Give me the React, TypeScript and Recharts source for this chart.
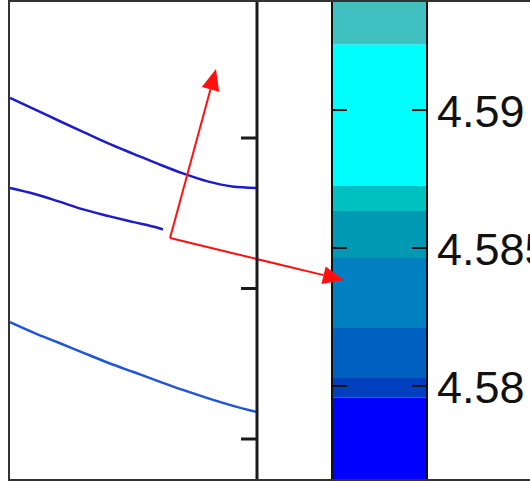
import React from "react";
import { BarChart, Bar, LineChart, Line, XAxis, YAxis, ReferenceLine } from "recharts";

const W = 530;
const H = 482;

// contour lines (left panel), x in plot units
const xs = [0, 1, 2, 3, 4, 5, 6, 7, 8, 9, 10];
const contourUpper = [3.266, 3.19, 3.113, 3.037, 2.962, 2.895, 2.828, 2.765, 2.712, 2.678, 2.668];
const contourMiddle = [2.668, 2.628, 2.577, 2.524, 2.481, 2.441, 2.402];
const contourMiddleEndX = 6.19;
const contourMiddleEndY = 2.392;
const contourLower = [1.777, 1.704, 1.638, 1.571, 1.505, 1.445, 1.385, 1.326, 1.272, 1.222, 1.179];
const plotYTicks = [1, 2, 3];

// red arrows
const arrowOrigin = { x: 6.48, y: 2.335 };
const arrowTips = [
  { x: 8.34, y: 3.458 },
  { x: 13.52, y: 2.056 },
];

// colorbar
const cbBounds = [4.57659, 4.57957, 4.58029, 4.5821, 4.58464, 4.58634, 4.58725, 4.59239, 4.59399];
const cbColors = ["#0000ff", "#0040c0", "#0060c0", "#0080c0", "#0099b4", "#00c0c0", "#00ffff", "#40c0c0"];
const cbTicks = [4.58, 4.585, 4.59];

const upperData = xs.map((x, i) => ({ x, y: contourUpper[i] }));
const middleData = [
  ...contourMiddle.map((y, i) => ({ x: xs[i], y })),
  { x: contourMiddleEndX, y: contourMiddleEndY },
];
const lowerData = xs.map((x, i) => ({ x, y: contourLower[i] }));

// one stacked column, each band is the step between two bounds
const cbRow: Record<string, any> = { k: "cb" };
cbColors.forEach((_, i) => {
  cbRow["b" + i] = i === 0 ? cbBounds[1] : cbBounds[i + 1] - cbBounds[i];
});
const cbData = [cbRow];

function Arrow(props: any) {
  const { x1, y1, x2, y2 } = props;
  const ang = Math.atan2(y2 - y1, x2 - x1);
  const len = 21;
  const half = 9;
  const bx = x2 - len * Math.cos(ang);
  const by = y2 - len * Math.sin(ang);
  const px = -Math.sin(ang) * half;
  const py = Math.cos(ang) * half;
  return (
    <g>
      <line x1={x1} y1={y1} x2={bx} y2={by} stroke="#ff1010" strokeWidth={2} />
      <polygon
        points={`${x2},${y2} ${bx + px},${by + py} ${bx - px},${by - py}`}
        fill="#ff1010"
      />
    </g>
  );
}

function InwardTickLeft(props: any) {
  const { x, y } = props;
  return <line x1={x - 16} y1={y} x2={x} y2={y} stroke="#1a1a1a" strokeWidth={3} />;
}

function CbTickLeft(props: any) {
  const { x, y } = props;
  return <line x1={x} y1={y} x2={x + 15} y2={y} stroke="#111" strokeWidth={2} />;
}

function CbTickRight(props: any) {
  const { x, y, payload } = props;
  return (
    <g>
      <line x1={x - 15} y1={y} x2={x} y2={y} stroke="#111" strokeWidth={2} />
      <text
        x={x + 10}
        y={y + 17}
        textAnchor="start"
        fontSize={45}
        fontFamily="'Liberation Sans', Arial, sans-serif"
        fill="#111"
      >
        {payload.value}
      </text>
    </g>
  );
}

export default function App() {
  const cbDomain = [cbBounds[0], cbBounds[cbBounds.length - 1]];
  return (
    <div style={{ position: "absolute", left: 0, top: 0, width: W, height: H, background: "#fff" }}>
      <div style={{ position: "absolute", left: 0, top: 0 }}>
        <BarChart
          width={W}
          height={H}
          data={cbData}
          barCategoryGap={0}
          margin={{ top: 0, right: 102, bottom: 2, left: 331 }}
        >
          <XAxis dataKey="k" hide />
          <YAxis
            yAxisId="cbL"
            orientation="left"
            width={1}
            type="number"
            domain={cbDomain}
            allowDataOverflow
            ticks={cbTicks}
            tickSize={0}
            tickMargin={0}
            tickLine={false}
            axisLine={{ stroke: "#111", strokeWidth: 2 }}
            tick={<CbTickLeft />}
          />
          <YAxis
            yAxisId="cb"
            orientation="right"
            width={1}
            type="number"
            domain={cbDomain}
            allowDataOverflow
            ticks={cbTicks}
            tickSize={0}
            tickMargin={0}
            tickLine={false}
            axisLine={{ stroke: "#111", strokeWidth: 2 }}
            tick={<CbTickRight />}
          />
          {cbColors.map((c, i) => (
            <Bar
              key={c}
              yAxisId="cb"
              dataKey={"b" + i}
              stackId="cb"
              fill={c}
              isAnimationActive={false}
            />
          ))}
        </BarChart>
      </div>
      <div style={{ position: "absolute", left: 0, top: 0 }}>
        <LineChart width={W} height={H} margin={{ top: 0, right: 272, bottom: 2, left: 10 }}>
          <XAxis type="number" dataKey="x" domain={[0, 10]} hide />
          <YAxis
            orientation="right"
            width={1}
            type="number"
            domain={[0.7276, 3.917]}
            ticks={plotYTicks}
            tickSize={0}
            tickMargin={0}
            tickLine={false}
            axisLine={{ stroke: "#1a1a1a", strokeWidth: 3 }}
            tick={<InwardTickLeft />}
          />
          <Line data={upperData} dataKey="y" type="monotone" stroke="#1c1cc8" strokeWidth={2.5} dot={false} isAnimationActive={false} />
          <Line data={middleData} dataKey="y" type="monotone" stroke="#1c1cc8" strokeWidth={2.5} dot={false} isAnimationActive={false} />
          <Line data={lowerData} dataKey="y" type="monotone" stroke="#1f55d8" strokeWidth={2.5} dot={false} isAnimationActive={false} />
          {arrowTips.map((t, i) => (
            <ReferenceLine
              key={i}
              segment={[arrowOrigin, t]}
              ifOverflow="visible"
              shape={(p: any) => <Arrow {...p} />}
            />
          ))}
        </LineChart>
      </div>
      <div
        style={{
          position: "absolute",
          left: 8,
          top: 0,
          width: W - 8,
          height: H - 1,
          boxSizing: "border-box",
          borderTop: "2px solid #333",
          borderLeft: "2px solid #333",
          borderBottom: "2px solid #333",
          pointerEvents: "none",
        }}
      />
    </div>
  );
}
